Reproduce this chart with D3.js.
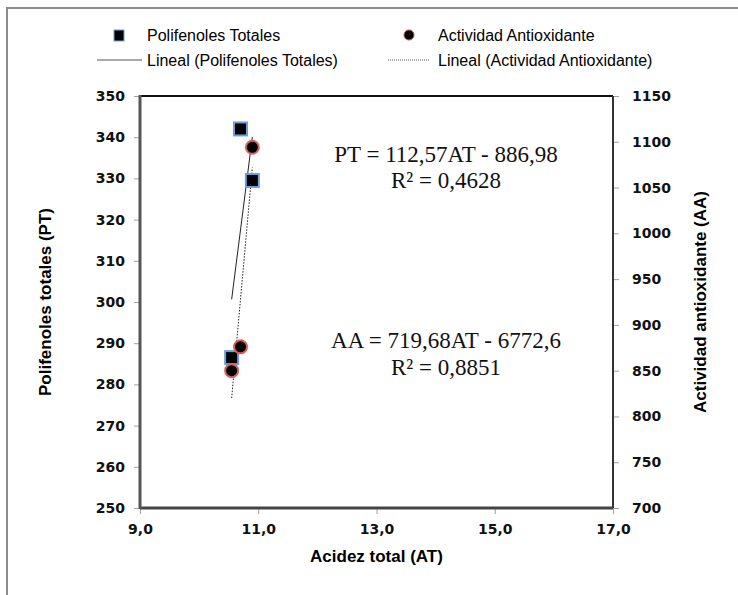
<!DOCTYPE html>
<html>
<head>
<meta charset="utf-8">
<script src="https://cdn.jsdelivr.net/npm/d3@7"></script>
<style>
  body { margin: 0; background: #fff; }
  svg { display: block; }
</style>
</head>
<body>
<div id="chart"></div>
<script>
// acidez total (AT) de las muestras
var acidez = [10.55, 10.70, 10.90];
var polifenoles = [286.5, 342.0, 329.5];
var actividad = [850, 876, 1094];

// coeficientes de las rectas de tendencia
var ptSlope = 112.57, ptIntercept = -886.98;
var aaSlope = 719.68, aaIntercept = -6772.6;

var xTicks = [9, 11, 13, 15, 17];
var ptTicks = d3.range(250, 351, 10);
var aaTicks = d3.range(700, 1151, 50);

var width = 738, height = 595;
var plotLeft = 140, plotRight = 613, plotTop = 96, plotBottom = 508;

var svg = d3.select("#chart").append("svg")
    .attr("width", width)
    .attr("height", height);

// marco exterior
svg.append("path")
    .attr("d", "M7,600 L7,8 L745,8")
    .attr("fill", "none")
    .attr("stroke", "#8c8c8c")
    .attr("stroke-width", 2);

var x = d3.scaleLinear().domain([9, 17]).range([plotLeft, plotRight]);
var yPT = d3.scaleLinear().domain([250, 350]).range([plotBottom, plotTop]);
var yAA = d3.scaleLinear().domain([700, 1150]).range([plotBottom, plotTop]);

var fmt = function(d) { return d3.format(".1f")(d).replace(".", ","); };
var tickFont = "bold 14px 'DejaVu Sans', sans-serif";

// ejes
var gx = svg.append("g")
    .attr("transform", "translate(0," + plotBottom + ")")
    .call(d3.axisBottom(x).tickValues(xTicks).tickFormat(fmt).tickSize(6).tickPadding(10));
var gl = svg.append("g")
    .attr("transform", "translate(" + plotLeft + ",0)")
    .call(d3.axisLeft(yPT).tickValues(ptTicks).tickFormat(d3.format("d")).tickSize(6).tickPadding(9));
var gr = svg.append("g")
    .attr("transform", "translate(" + plotRight + ",0)")
    .call(d3.axisRight(yAA).tickValues(aaTicks).tickFormat(d3.format("d")).tickSize(6).tickPadding(13));

[gx, gl, gr].forEach(function(g) {
    g.select(".domain").remove();
    g.selectAll(".tick line").attr("stroke", "#a0a0a0");
    g.selectAll(".tick text")
        .style("font", tickFont)
        .attr("fill", "#111");
});

// bordes del area de trazado
svg.append("line").attr("x1", plotLeft).attr("x2", plotRight).attr("y1", plotTop).attr("y2", plotTop)
    .attr("stroke", "#111").attr("stroke-width", 2);
svg.append("line").attr("x1", plotRight).attr("x2", plotRight).attr("y1", plotTop).attr("y2", plotBottom)
    .attr("stroke", "#333").attr("stroke-width", 2);
svg.append("line").attr("x1", plotLeft).attr("x2", plotRight).attr("y1", plotBottom).attr("y2", plotBottom)
    .attr("stroke", "#444").attr("stroke-width", 3);
svg.append("line").attr("x1", plotLeft).attr("x2", plotLeft).attr("y1", plotTop - 1).attr("y2", plotBottom + 1)
    .attr("stroke", "#555").attr("stroke-width", 3);

// titulos de ejes
var titleFont = "bold 17px 'Liberation Sans', Arial, sans-serif";
svg.append("text")
    .attr("x", (plotLeft + plotRight) / 2).attr("y", 562)
    .attr("text-anchor", "middle")
    .style("font", titleFont)
    .text("Acidez total (AT)");
svg.append("text")
    .attr("transform", "translate(51," + (plotTop + plotBottom) / 2 + ") rotate(-90)")
    .attr("text-anchor", "middle")
    .style("font", titleFont)
    .text("Polifenoles totales (PT)");
svg.append("text")
    .attr("transform", "translate(706," + (plotTop + plotBottom) / 2 + ") rotate(-90)")
    .attr("text-anchor", "middle")
    .style("font", titleFont)
    .text("Actividad antioxidante (AA)");

// rectas de tendencia
var xMin = d3.min(acidez), xMax = d3.max(acidez);
svg.append("line")
    .attr("x1", x(xMin)).attr("y1", yPT(ptSlope * xMin + ptIntercept))
    .attr("x2", x(xMax)).attr("y2", yPT(ptSlope * xMax + ptIntercept))
    .attr("stroke", "#222").attr("stroke-width", 1);
svg.append("line")
    .attr("x1", x(xMin)).attr("y1", yAA(aaSlope * xMin + aaIntercept))
    .attr("x2", x(xMax)).attr("y2", yAA(aaSlope * xMax + aaIntercept))
    .attr("stroke", "#222").attr("stroke-width", 1)
    .attr("stroke-dasharray", "1.5,1.5");

// puntos
svg.selectAll("rect.pt")
    .data(acidez)
    .enter().append("rect")
    .attr("class", "pt")
    .attr("x", function(d) { return x(d) - 6.5; })
    .attr("y", function(d, i) { return yPT(polifenoles[i]) - 6.5; })
    .attr("width", 13).attr("height", 13)
    .attr("fill", "#000")
    .attr("stroke", "#6f9fd8").attr("stroke-width", 2);

svg.selectAll("circle.aa")
    .data(acidez)
    .enter().append("circle")
    .attr("class", "aa")
    .attr("cx", function(d) { return x(d); })
    .attr("cy", function(d, i) { return yAA(actividad[i]); })
    .attr("r", 6.5)
    .attr("fill", "#000")
    .attr("stroke", "#d9605c").attr("stroke-width", 2);

// ecuaciones
var eqFont = "23px 'Liberation Serif', 'Times New Roman', serif";
var eqs = [
    ["PT = 112,57AT - 886,98", 162],
    ["R\u00b2 = 0,4628", 188],
    ["AA = 719,68AT - 6772,6", 348],
    ["R\u00b2 = 0,8851", 375]
];
svg.selectAll("text.eq")
    .data(eqs)
    .enter().append("text")
    .attr("class", "eq")
    .attr("x", 446)
    .attr("y", function(d) { return d[1]; })
    .attr("text-anchor", "middle")
    .style("font", eqFont)
    .attr("fill", "#111")
    .text(function(d) { return d[0]; });

// leyenda
var legFont = "16px 'Liberation Sans', Arial, sans-serif";
var leg = svg.append("g");
leg.append("rect").attr("x", 114).attr("y", 30).attr("width", 10).attr("height", 11)
    .attr("fill", "#000").attr("stroke", "#6f9fd8").attr("stroke-width", 1);
leg.append("text").attr("x", 147).attr("y", 41).style("font", legFont).text("Polifenoles Totales");
leg.append("circle").attr("cx", 409).attr("cy", 35).attr("r", 5)
    .attr("fill", "#000").attr("stroke", "#c0504d").attr("stroke-width", 1);
leg.append("text").attr("x", 438).attr("y", 41).style("font", legFont).text("Actividad Antioxidante");
leg.append("line").attr("x1", 97).attr("x2", 142).attr("y1", 60).attr("y2", 60)
    .attr("stroke", "#555").attr("stroke-width", 1.2);
leg.append("text").attr("x", 147).attr("y", 66).style("font", legFont).text("Lineal (Polifenoles Totales)");
leg.append("line").attr("x1", 388).attr("x2", 430).attr("y1", 60).attr("y2", 60)
    .attr("stroke", "#555").attr("stroke-width", 1)
    .attr("stroke-dasharray", "1,1");
leg.append("text").attr("x", 438).attr("y", 66).style("font", legFont).text("Lineal (Actividad Antioxidante)");
</script>
</body>
</html>
